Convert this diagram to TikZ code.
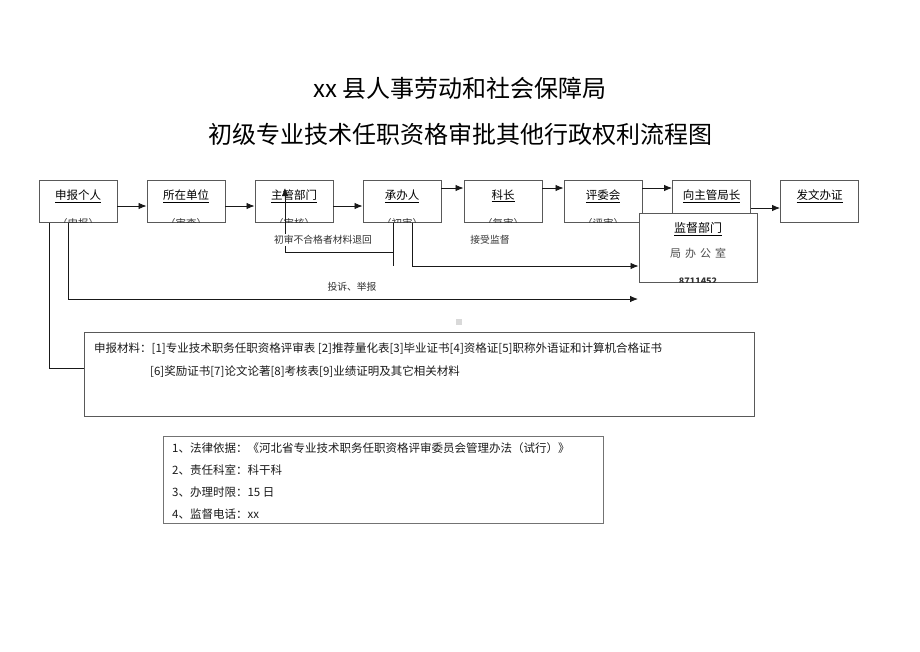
\documentclass[tikz,border=0pt]{standalone}
\usepackage{fontspec}
\setmainfont{Noto Sans CJK SC}
\usetikzlibrary{arrows.meta,calc}
\begin{document}
\begin{tikzpicture}[x=1pt,y=-1pt,
  box/.style={draw=black!65,line width=0.9pt,minimum width=78pt,minimum height=42pt,inner sep=0pt,fill=white},
  lab/.style={font=\fontsize{11.5}{13}\selectfont,inner sep=0pt},
  sub/.style={font=\fontsize{10.5}{12}\selectfont,text=black!80,anchor=north,inner sep=0pt},
  conn/.style={line width=0.85pt,black!90},
  arr/.style={conn,-{Latex[length=8pt,width=6.5pt]}},
  note/.style={font=\fontsize{9.8}{11}\selectfont,text=black!80,fill=white,inner sep=1pt},
  txt/.style={font=\fontsize{11.5}{13}\selectfont,anchor=west,inner sep=0pt,text=black!90},
  ttl/.style={font=\fontsize{24}{28}\selectfont,inner sep=0pt}
]
\useasboundingbox (0,0) rectangle (920,651);

% title
\node[ttl] (t1) at (460,88) {xx 县人事劳动和社会保障局};
\node[ttl] (t2) at (460,134) {初级专业技术任职资格审批其他行政权利流程图};

% flow boxes
\node[box] (b1) at (78,201.5) {};
\node[box] (b2) at (186,201.5) {};
\node[box] (b3) at (294,201.5) {};
\node[box] (b4) at (402,201.5) {};
\node[box] (b5) at (503,201.5) {};
\node[box] (b6) at (603,201.5) {};
\node[box] (b7) at (711.5,201.5) {};
\node[box] (b8) at (819.5,201.5) {};

\node[lab] (l1) at (78,196) {\underline{申报个人}};
\node[lab] (l2) at (186,196) {\underline{所在单位}};
\node[lab] (l3) at (294,196) {\underline{主管部门}};
\node[lab] (l4) at (402,196) {\underline{承办人}};
\node[lab] (l5) at (503,196) {\underline{科长}};
\node[lab] (l6) at (603,196) {\underline{评委会}};
\node[lab] (l7) at (711.5,196) {\underline{向主管局长}};
\node[lab] (l8) at (819.5,196) {\underline{发文办证}};

\foreach \n/\s/\k in {b1/（申报）/s1,b2/（审查）/s2,b3/（审核）/s3,b4/（初审）/s4,b5/（复审）/s5,b6/（评审）/s6}{
  \begin{scope}
    \clip (\n.south west) rectangle (\n.north east);
    \node[sub] (\k) at ([yshift=5pt]\n.south) {\s};
  \end{scope}
}

% supervision box (drawn over neighbours)
\node[box,minimum width=118pt,minimum height=69pt] (sup) at (698,247.5) {};
\node[lab,font=\fontsize{12}{14}\selectfont] (supl) at (698,229) {\underline{监督部门}};
\node[lab,font=\fontsize{11}{13}\selectfont,text=black!70] (supo) at (698,253) {局\hspace{4pt}办\hspace{4pt}公\hspace{4pt}室};
\begin{scope}
  \clip (sup.south west) rectangle (sup.north east);
  \node[font=\fontsize{9}{10}\selectfont\bfseries,anchor=north,inner sep=0pt,text=black!80] (supt) at (698,277.5) {8711452};
\end{scope}

% coordinates for connector heights
\coordinate (ya) at (0,206);
\coordinate (yb) at (0,188);
\coordinate (yc) at (0,208);
\coordinate (y266) at (0,266);
\coordinate (y368) at (0,368);

% main flow arrows
\draw[arr] (b1.east|-ya) -- (b2.west|-ya);
\draw[arr] (b2.east|-ya) -- (b3.west|-ya);
\draw[arr] (b3.east|-ya) -- (b4.west|-ya);
\draw[arr] (b4.east|-yb) -- (b5.west|-yb);
\draw[arr] (b5.east|-yb) -- (b6.west|-yb);
\draw[arr] (b6.east|-yb) -- (b7.west|-yb);
\draw[arr] (b7.east|-yc) -- (b8.west|-yc);

% return path
\coordinate (ret) at (393,252);
\coordinate (retL) at (285,252);
\draw[conn] ([xshift=-9pt]b4.south) -- ++(0,43);
\draw[conn] (ret) -- (retL);
\draw[arr] (retL) -- ([xshift=-9pt,yshift=13.5pt]b3.center);
\node[note] (n1) at (323,240) {初审不合格者材料退回};

% supervision connector
\draw[arr] ([xshift=10pt]b4.south) |- (sup.west|-y266);
\node[note] (n2) at (490,240) {接受监督};

% complaint line
\coordinate (cend) at (638,299);
\draw[arr] ([xshift=-10pt]b1.south) |- (cend);
\node[note] (n3) at (352,287) {投诉、举报};

% small grey mark
\node[fill=black!15,minimum size=6pt,inner sep=0pt] (mark) at (459,322) {};

% materials box
\node[draw=black!65,line width=0.9pt,minimum width=670pt,minimum height=84pt,inner sep=0pt] (mat) at (419,374) {};
\draw[conn] ([xshift=-29pt]b1.south) |- (mat.west|-y368);
\node[txt] (m1) at (94,349) {申报材料：[1]专业技术职务任职资格评审表 [2]推荐量化表[3]毕业证书[4]资格证[5]职称外语证和计算机合格证书};
\node[txt] (m2) at (150,372) {[6]奖励证书[7]论文论著[8]考核表[9]业绩证明及其它相关材料};

% info box
\node[draw=black!55,line width=0.9pt,minimum width=440pt,minimum height=87pt,inner sep=0pt] (info) at (383,479.5) {};
\node[txt] (i1) at (172,448) {1、法律依据：《河北省专业技术职务任职资格评审委员会管理办法（试行）》};
\node[txt] (i2) at (172,470.5) {2、责任科室：科干科};
\node[txt] (i3) at (172,492.5) {3、办理时限：15 日};
\node[txt] (i4) at (172,514) {4、监督电话：xx};
\end{tikzpicture}
\end{document}
